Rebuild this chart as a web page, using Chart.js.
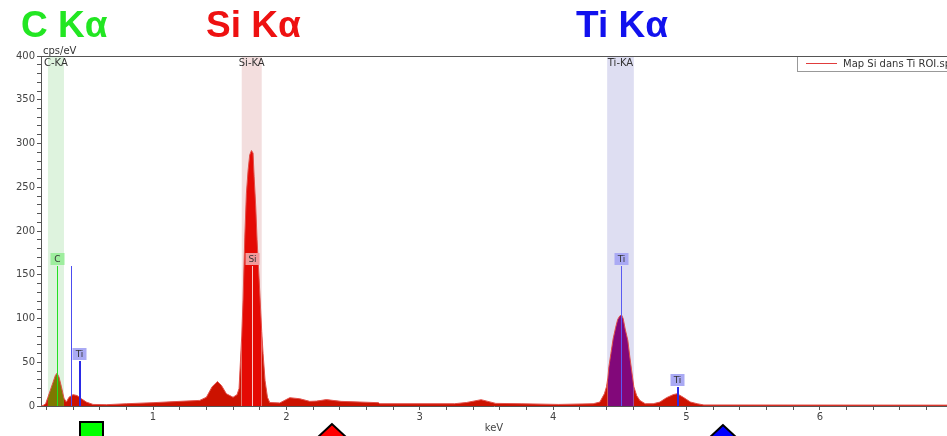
<!DOCTYPE html>
<html>
<head>
<meta charset="utf-8">
<title>Map Si dans Ti ROI</title>
<script src="https://cdn.jsdelivr.net/npm/chart.js@4.4.0/dist/chart.umd.min.js"></script>
<style>
  html, body { margin: 0; padding: 0; background: #fff; }
  #wrap { position: relative; width: 947px; height: 436px; overflow: hidden; }
  #spectrum { position: absolute; left: 0; top: 0; }
  .peak { position: absolute; top: 6px; font: bold 37px "Liberation Sans", Arial, sans-serif; line-height: 37px; white-space: nowrap; }
</style>
</head>
<body>
<div id="wrap">
  <canvas id="spectrum" width="947" height="436"></canvas>
  <div class="peak" style="left:21px; color:#22e622">C Kα</div>
  <div class="peak" style="left:206px; color:#ee1111">Si Kα</div>
  <div class="peak" style="left:576px; color:#1111ee">Ti Kα</div>
</div>
<script>
// spectrum (energy in keV, intensity in cps/eV)
const energyKeV = [
  0.16, 0.175, 0.195, 0.212, 0.23, 0.25, 0.268, 0.28, 0.295, 0.313, 0.332,
  0.35, 0.37, 0.40, 0.43, 0.463, 0.50, 0.55, 0.65, 0.80, 1.00, 1.20, 1.35,
  1.40, 1.443, 1.483, 1.513, 1.55, 1.60, 1.63, 1.645, 1.655,
  1.665, 1.675, 1.688, 1.70, 1.713, 1.725, 1.738, 1.75, 1.758, 1.77, 1.78, 1.795, 1.808, 1.815,
  1.825, 1.84, 1.858, 1.875, 1.95, 2.025, 2.10, 2.175, 2.225, 2.30, 2.41, 2.69, 2.70,
  3.26, 3.35, 3.46, 3.57, 3.76, 4.04, 4.30, 4.35, 4.384,
  4.40, 4.41, 4.418, 4.433, 4.45, 4.469, 4.484, 4.50, 4.513, 4.525, 4.54, 4.56, 4.575, 4.59, 4.605,
  4.626, 4.65, 4.69, 4.75, 4.80, 4.85, 4.90, 4.93, 4.975, 5.03, 5.08, 5.13, 7.0
];
const cpsPerEV = [
  0, 0.5, 2.6, 10, 18, 27, 35, 37.5, 33, 22, 9,
  4.5, 10, 13, 12, 8.3, 4.5, 1.8, 1.5, 2.6, 3.8, 5.3, 6.4,
  10, 22, 28, 23.5, 14, 10, 13, 20, 50,
  80, 121, 193, 243, 270, 287, 292, 289, 262, 228, 190, 146, 106, 85,
  60, 29, 10, 4, 3.5, 9.5, 8.3, 5.3, 5.6, 7.3, 5.3, 3.8, 2.6,
  2.6, 4, 7.2, 3, 2.6, 1.8, 2.6, 4.5, 14,
  22, 32, 45, 60, 77, 90, 99, 103, 104, 100, 88, 75, 56, 39, 22,
  12, 6.4, 2.6, 2.6, 4.5, 9.5, 13, 14, 10, 4.5, 2.6, 1.2, 1
];

// regions of interest
const roiNames = ['C-KA', 'Si-KA', 'Ti-KA'];
const roiStart = [0.212, 1.665, 4.405];
const roiEnd = [0.332, 1.815, 4.605];

// element lines
const lineNames = ['C', '', 'Ti', 'Si', 'Ti', 'Ti'];
const lineKeV = [0.277, 0.385, 0.445, 1.74, 4.51, 4.93];
const lineLevel = [160, 160, 51, 160, 160, 22];

const xTickLabels = [1, 2, 3, 4, 5, 6];
const yTickLabels = [0, 50, 100, 150, 200, 250, 300, 350, 400];

const legendText = 'Map Si dans Ti ROI.spx';

const roiBand = ['#def3de', '#f3dede', '#dedef2'];
const roiSpectrum = ['#7e7800', '#e40a04', '#82087a'];
const lineColor = { C: '#22e022', Si: '#f8caca', Ti: '#5a5af2', '': '#4c4cf0' };
const boxColor = { C: '#9eee9e', Si: '#f29a9a', Ti: '#aaaaf4' };

const labelFont = '10px "DejaVu Sans", Verdana, sans-serif';
const boxFont = '9px "DejaVu Sans", Verdana, sans-serif';

function roiIndex(a, b) {
  for (let i = 0; i < roiStart.length; i++) {
    if (a >= roiStart[i] - 1e-6 && b <= roiEnd[i] + 1e-6) return i;
  }
  return -1;
}

const decor = {
  id: 'decor',
  beforeDatasetsDraw(chart) {
    const { ctx, chartArea: a, scales: { x } } = chart;
    ctx.save();
    roiNames.forEach((name, i) => {
      const x0 = x.getPixelForValue(roiStart[i]);
      const x1 = x.getPixelForValue(roiEnd[i]);
      ctx.fillStyle = roiBand[i];
      ctx.fillRect(x0, a.top, x1 - x0, a.bottom - a.top);
      ctx.fillStyle = '#333';
      ctx.font = labelFont;
      ctx.textAlign = 'center';
      ctx.textBaseline = 'middle';
      ctx.fillText(name, (x0 + x1) / 2, a.top + 7);
    });
    ctx.restore();
  },
  afterDatasetsDraw(chart) {
    const { ctx, chartArea: a, scales: { x, y } } = chart;
    ctx.save();
    // element lines + labels
    lineKeV.forEach((e, i) => {
      const name = lineNames[i];
      const px = Math.round(x.getPixelForValue(e));
      const top = Math.round(y.getPixelForValue(lineLevel[i]));
      const w = (name === 'Ti' && lineLevel[i] < 100) ? 2 : 1;
      ctx.fillStyle = (w === 2) ? '#2a2ae6' : lineColor[name];
      ctx.fillRect(px, top, w, a.bottom - top);
      if (name) {
        ctx.font = boxFont;
        const bw = Math.max(14, ctx.measureText(name).width + 5);
        ctx.fillStyle = boxColor[name];
        ctx.fillRect(px + 0.5 - bw / 2, top - 13, bw, 12);
        ctx.fillStyle = '#333';
        ctx.textAlign = 'center';
        ctx.textBaseline = 'middle';
        ctx.fillText(name, px + 0.5, top - 6.5);
      }
    });
    // top frame line
    ctx.fillStyle = '#555';
    ctx.fillRect(a.left, a.top, a.right - a.left, 1);
    // legend
    ctx.fillStyle = '#fff';
    ctx.fillRect(797, 57, 160, 14);
    ctx.fillStyle = '#999';
    ctx.fillRect(797, 57, 1, 15);
    ctx.fillRect(797, 71, 160, 1);
    ctx.fillStyle = '#e03c3c';
    ctx.fillRect(806, 63, 31, 1);
    ctx.fillStyle = '#333';
    ctx.font = labelFont;
    ctx.textAlign = 'left';
    ctx.textBaseline = 'middle';
    ctx.fillText(legendText, 843, 64);
    ctx.restore();
  },
  afterDraw(chart) {
    const { ctx } = chart;
    ctx.save();
    ctx.fillStyle = '#333';
    ctx.font = labelFont;
    ctx.textAlign = 'left';
    ctx.textBaseline = 'alphabetic';
    ctx.fillText('cps/eV', 43, 54);
    // markers under the axis
    ctx.lineWidth = 2;
    ctx.strokeStyle = '#000';
    ctx.fillStyle = '#00ff00';
    ctx.fillRect(80, 422, 23, 30);
    ctx.strokeRect(80, 422, 23, 30);
    [[332, 424, '#ff0000'], [723, 425, '#0000ff']].forEach(([cx, cy, col]) => {
      ctx.beginPath();
      ctx.moveTo(cx, cy);
      ctx.lineTo(cx - 30, cy + 28);
      ctx.lineTo(cx + 30, cy + 28);
      ctx.closePath();
      ctx.fillStyle = col;
      ctx.fill();
      ctx.stroke();
    });
    ctx.restore();
  }
};

const tickFont = { family: '"DejaVu Sans", Verdana, sans-serif', size: 10 };

new Chart(document.getElementById('spectrum'), {
  type: 'line',
  data: {
    datasets: [{
      label: legendText,
      data: energyKeV.map((e, i) => ({ x: e, y: cpsPerEV[i] })),
      borderColor: '#e2504a',
      borderWidth: 1,
      backgroundColor: '#cc1200',
      fill: 'origin',
      pointRadius: 0,
      tension: 0,
      segment: {
        backgroundColor: ctx => {
          const i = roiIndex(ctx.p0.parsed.x, ctx.p1.parsed.x);
          return i >= 0 ? roiSpectrum[i] : undefined;
        }
      }
    }]
  },
  options: {
    responsive: false,
    animation: false,
    layout: { padding: { top: 56, left: 0, right: 0, bottom: 0 } },
    plugins: { legend: { display: false }, tooltip: { enabled: false } },
    scales: {
      x: {
        type: 'linear',
        min: 0.16,
        max: 6.953,
        afterFit: s => { s.height = 30; },
        border: { color: '#555', width: 1 },
        grid: { drawOnChartArea: false, tickLength: 4, tickColor: '#555' },
        ticks: {
          stepSize: 0.2,
          includeBounds: false,
          autoSkip: false,
          maxRotation: 0,
          padding: 1,
          color: '#444',
          font: tickFont,
          callback: v => {
            const r = Math.round(v);
            return Math.abs(v - r) < 1e-6 && xTickLabels.includes(r) ? String(r) : '';
          }
        },
        title: { display: true, text: 'keV', color: '#444', font: tickFont, padding: { top: 0, bottom: 2 } }
      },
      y: {
        min: 0,
        max: 400,
        afterFit: s => { s.width = 41; },
        border: { color: '#555', width: 1 },
        grid: { drawOnChartArea: false, tickLength: 4, tickColor: '#555' },
        ticks: {
          stepSize: 10,
          autoSkip: false,
          padding: 2,
          color: '#444',
          font: tickFont,
          callback: v => yTickLabels.includes(v) ? String(v) : ''
        }
      }
    }
  },
  plugins: [decor]
});
</script>
</body>
</html>
